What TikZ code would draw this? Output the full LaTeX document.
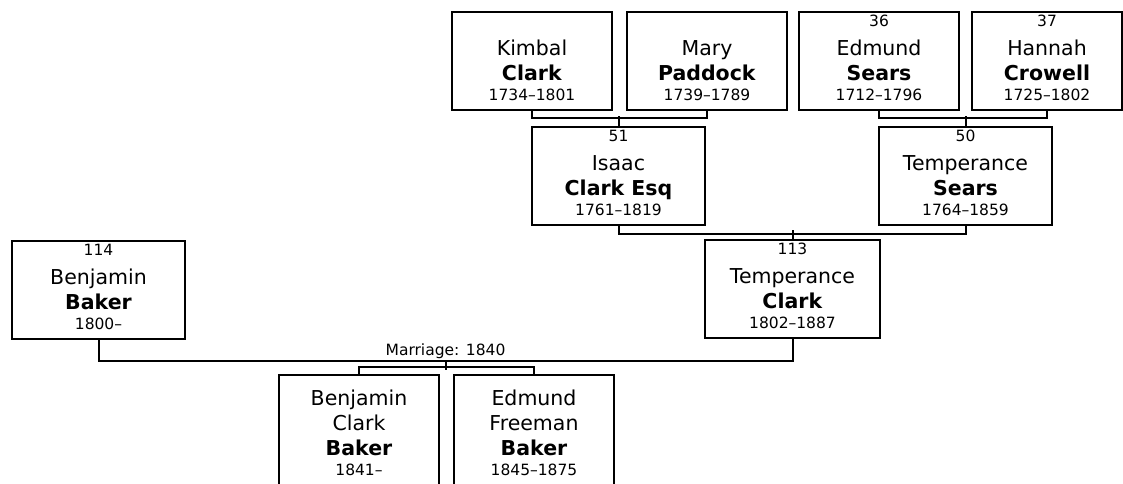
\documentclass[tikz,border=0pt]{standalone}
\usepackage{fontspec}
\setmainfont{DejaVu Sans}
\usetikzlibrary{positioning}
\newcommand{\sm}{\fontsize{15.5}{20}\selectfont}
\tikzset{
    person/.style={rectangle, draw, line width=2pt, inner sep=0pt, minimum width=173pt, align=center, font=\fontsize{20.5}{25}\selectfont, text height=88pt, text depth=10pt},
    elder/.style={person, minimum width=160pt},
    child/.style={person, minimum width=160pt, text height=100pt, text depth=22pt},
    link/.style={line width=2pt},
}
\begin{document}
\begin{tikzpicture}[x=1pt, y=-1pt]
    \useasboundingbox (0,0) rectangle (1123,483);

    % Grandparents
    \node[elder] (kimbal) at (532,61) {Kimbal\\ \textbf{Clark}\\[-5pt] {\sm 1734--1801}};
    \node[elder, right=13pt of kimbal] (mary) {Mary\\ \textbf{Paddock}\\[-5pt] {\sm 1739--1789}};
    \node[elder] (edmund) at (879,61) {{\sm 36}\\[4pt] Edmund\\ \textbf{Sears}\\[-5pt] {\sm 1712--1796}};
    \node[elder, minimum width=150pt] (hannah) at (1047,61) {{\sm 37}\\[4pt] Hannah\\ \textbf{Crowell}\\[-5pt] {\sm 1725--1802}};

    % Parents
    \node[person] (isaac) at (618.5,176) {{\sm 51}\\[4pt] Isaac\\ \textbf{Clark Esq}\\[-5pt] {\sm 1761--1819}};
    \node[person] (tsears) at (965.5,176) {{\sm 50}\\[4pt] Temperance\\ \textbf{Sears}\\[-5pt] {\sm 1764--1859}};

    % Couple
    \node[person] (bbaker) at (98.5,290) {{\sm 114}\\[4pt] Benjamin\\ \textbf{Baker}\\[-5pt] {\sm 1800--}};
    \node[person, minimum width=175pt] (tclark) at (792.5,289) {{\sm 113}\\[4pt] Temperance\\ \textbf{Clark}\\[-5pt] {\sm 1802--1887}};

    % Children
    \node[child] (bcbaker) at (359,436) {Benjamin\\ Clark\\ \textbf{Baker}\\[-5pt] {\sm 1841--}};
    \node[child, right=13pt of bcbaker] (efbaker) {Edmund\\ Freeman\\ \textbf{Baker}\\[-5pt] {\sm 1845--1875}};

    % Lines
    \draw[link] (kimbal.south) -- ++(0,7) -| (mary.south);
    \draw[link] (isaac.north) -- ++(0,-10);
    \draw[link] (edmund.south) -- ++(0,7) -| (hannah.south);
    \draw[link] (tsears.north) -- ++(0,-10);
    \draw[link] (isaac.south) -- ++(0,8) -| (tsears.south);
    \draw[link] (tclark.north) -- ++(0,-9);
    \draw[link] (bbaker.south) -- ++(0,21) -| node[pos=0.25, above, inner sep=1pt, font=\sm] (wed) {Marriage: 1840} (tclark.south);
    \draw[link] (wed.south) -- ++(0,9);
    \draw[link] (bcbaker.north) -- ++(0,-7) -| (efbaker.north);
\end{tikzpicture}
\end{document}
